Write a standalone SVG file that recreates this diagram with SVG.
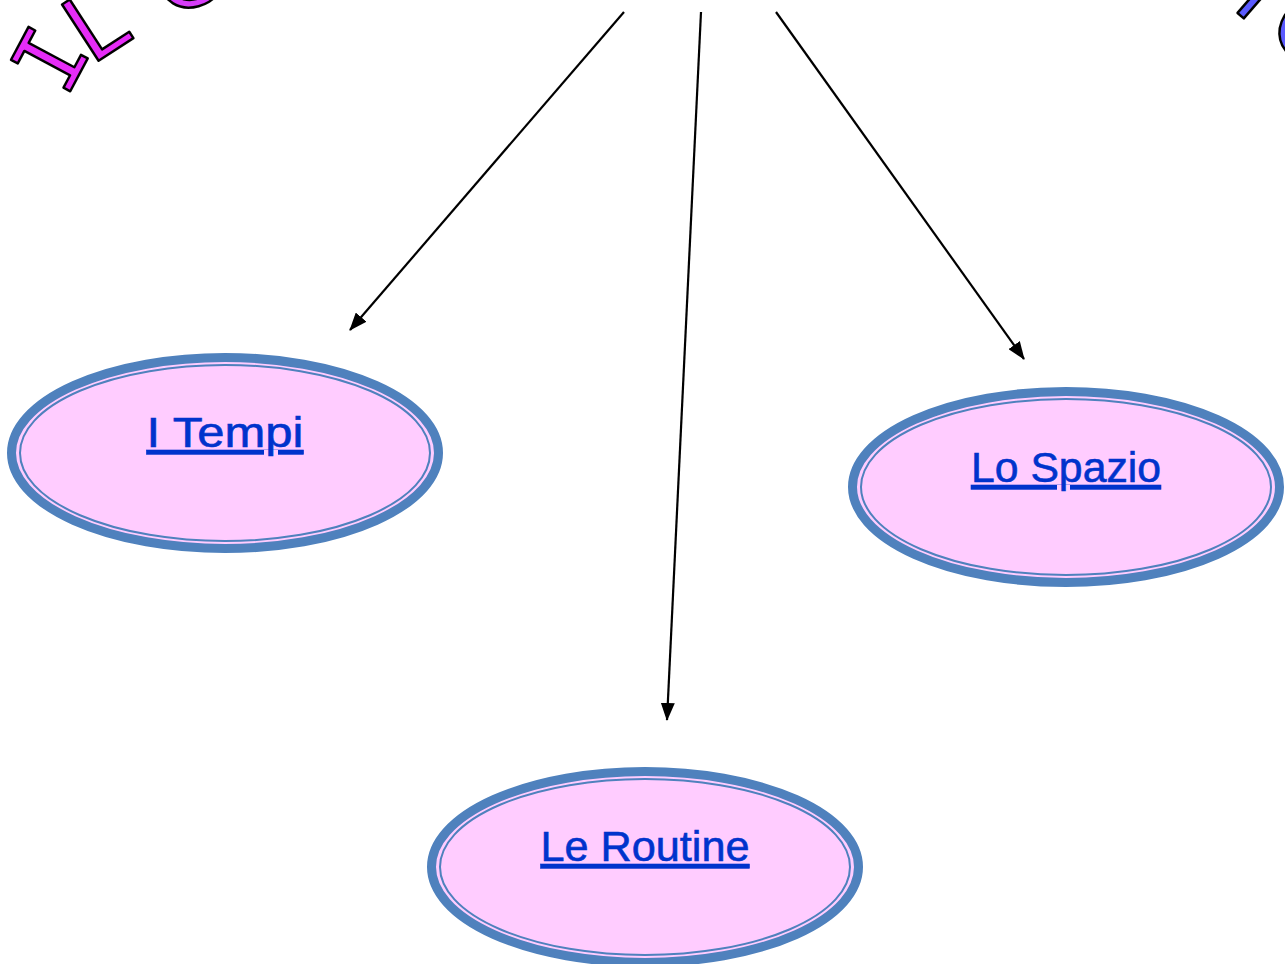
<svg xmlns="http://www.w3.org/2000/svg" width="1285" height="964" viewBox="0 0 1285 964">
  <style>
    .oval { fill: #ffccff; stroke: #4f81bd; stroke-width: 9; }
    .oval-inner { fill: none; stroke: #4f81bd; stroke-width: 2; }
    .label { font-family: "Liberation Sans", "DejaVu Sans", sans-serif; font-size: 43px; fill: #0033cc; stroke: #0033cc; stroke-width: 0.6; text-anchor: middle; text-decoration: underline; }
    .edge { stroke: #000; stroke-width: 2.2; fill: none; marker-end: url(#arrow); }
    .title-m { font-family: "DejaVu Sans Mono", monospace; font-size: 92px; fill: #e62cf8; stroke: #000; stroke-width: 2.5; stroke-linejoin: round; }
    .title-m2 { font-family: "DejaVu Sans", sans-serif; font-size: 92px; fill: #d63cf8; stroke: #000; stroke-width: 2.5; stroke-linejoin: round; }
    .title-b { font-family: "DejaVu Sans", sans-serif; font-size: 92px; fill: #5b5bff; stroke: #000; stroke-width: 2.5; stroke-linejoin: round; }
  </style>
  <defs>
    <marker id="arrow" viewBox="0 0 18 14" refX="17" refY="7" markerWidth="18" markerHeight="14" markerUnits="userSpaceOnUse" orient="auto">
      <path d="M0,0 L18,7 L0,14 z" fill="#000"/>
    </marker>
  </defs>
  <rect width="1285" height="964" fill="#fff"/>

  <!-- arched title lettering, running beyond the top edge -->
  <g id="title">
    <text class="title-m" transform="translate(50,59) rotate(-62)" x="-28" y="33">I</text>
    <text class="title-m" transform="translate(100,55) rotate(-33)" x="-14" y="4">L</text>
    <text class="title-m2" transform="translate(184,-26) rotate(-15)" x="0" y="33.5" text-anchor="middle">C</text>
    <text class="title-b" transform="translate(1240,15) rotate(41)" x="-12" y="0">l</text>
    <text class="title-b" transform="translate(1313,29) rotate(40)" x="0" y="33.5" text-anchor="middle">O</text>
  </g>

  <!-- connectors -->
  <g id="connectors">
    <line class="edge" x1="624" y1="12" x2="350" y2="330"/>
    <line class="edge" x1="701" y1="12" x2="667" y2="720"/>
    <line class="edge" x1="776" y1="12" x2="1024" y2="359"/>
  </g>

  <g id="node-tempi">
    <ellipse class="oval" cx="225" cy="453" rx="213.5" ry="95.5"/>
    <ellipse class="oval-inner" cx="225" cy="453" rx="205" ry="88"/>
    <text class="label" x="225" y="447" textLength="157" lengthAdjust="spacingAndGlyphs">I Tempi</text>
  </g>

  <g id="node-spazio">
    <ellipse class="oval" cx="1066" cy="487" rx="213.5" ry="95.5"/>
    <ellipse class="oval-inner" cx="1066" cy="487" rx="205" ry="88"/>
    <text class="label" x="1066" y="482" textLength="190" lengthAdjust="spacingAndGlyphs">Lo Spazio</text>
  </g>

  <g id="node-routine">
    <ellipse class="oval" cx="645" cy="867" rx="213.5" ry="95.5"/>
    <ellipse class="oval-inner" cx="645" cy="867" rx="205" ry="88"/>
    <text class="label" x="645" y="861" textLength="209" lengthAdjust="spacingAndGlyphs">Le Routine</text>
  </g>
</svg>
